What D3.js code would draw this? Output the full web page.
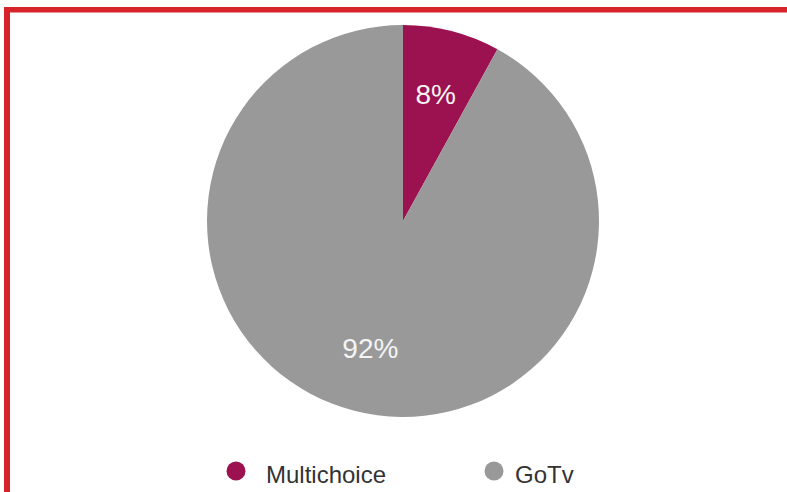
<!DOCTYPE html>
<html>
<head>
<meta charset="utf-8">
<script src="https://cdn.jsdelivr.net/npm/d3@7"></script>
<style>
  body { margin: 0; background: #fff; }
  svg { display: block; font-family: "Liberation Sans", Arial, sans-serif; }
</style>
</head>
<body>
<div id="chart"></div>
<script>
// data
var categories = ["Multichoice", "GoTv"];
var shares = [8, 92];
var colors = ["#9c1150", "#999999"];

var width = 787, height = 492;
var cx = 403, cy = 221, radius = 196;

var svg = d3.select("#chart").append("svg")
    .attr("width", width)
    .attr("height", height);

// red frame (top + left)
svg.append("rect").attr("x", 4).attr("y", 7).attr("width", width - 4).attr("height", 5.5).attr("fill", "#d7242b");
svg.append("rect").attr("x", 4).attr("y", 7).attr("width", 6).attr("height", height - 7).attr("fill", "#d7242b");

var color = d3.scaleOrdinal().domain(categories).range(colors);

var pie = d3.pie().sort(null).value(function (d) { return d.value; });
var data = categories.map(function (c, i) { return { name: c, value: shares[i] }; });

var arc = d3.arc().innerRadius(0).outerRadius(radius);
var labelArc = d3.arc().innerRadius(radius * 0.67).outerRadius(radius * 0.67);

var g = svg.append("g").attr("transform", "translate(" + cx + "," + cy + ")");

g.selectAll("path")
    .data(pie(data))
    .enter().append("path")
    .attr("d", arc)
    .attr("fill", function (d) { return color(d.data.name); });

g.selectAll("text")
    .data(pie(data))
    .enter().append("text")
    .attr("transform", function (d) { return "translate(" + labelArc.centroid(d) + ")"; })
    .attr("text-anchor", "middle")
    .attr("dy", "0.36em")
    .attr("fill", "#f4f4f4")
    .attr("font-size", "28px")
    .text(function (d) { return d.data.value + "%"; });

// legend
var legendX = [236, 494];
var legendTextX = [266, 515];
var legend = svg.selectAll(".legend")
    .data(categories)
    .enter().append("g")
    .attr("class", "legend");

legend.append("circle")
    .attr("cx", function (d, i) { return legendX[i]; })
    .attr("cy", 471)
    .attr("r", 9.5)
    .attr("fill", function (d) { return color(d); });

legend.append("text")
    .attr("x", function (d, i) { return legendTextX[i]; })
    .attr("y", 483)
    .attr("font-size", "24px")
    .attr("fill", "#333")
    .text(function (d) { return d; });
</script>
</body>
</html>
